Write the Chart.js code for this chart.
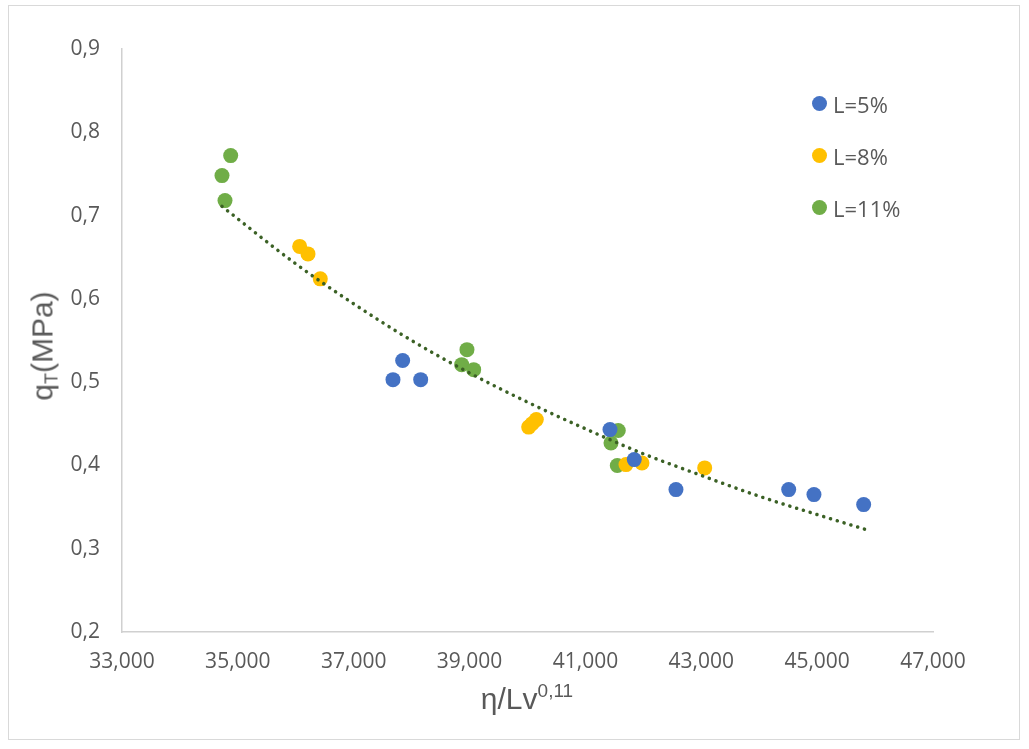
<!DOCTYPE html>
<html>
<head>
<meta charset="utf-8">
<script src="https://cdn.jsdelivr.net/npm/chart.js@4.4.1/dist/chart.umd.min.js"></script>
<style>
  body { margin: 0; background: #fff; }
  #wrap { position: relative; width: 1029px; height: 749px; }
  #frame { position: absolute; left: 8px; top: 5px; width: 1012px; height: 735px; border: 1px solid #d9d9d9; box-sizing: border-box; }
  #chart { position: absolute; left: 0; top: 0; }
  .ytitle { position: absolute; left: 44px; top: 346px; transform: translate(-50%, -50%) rotate(-90deg);
    font: 30px "Liberation Sans", Arial, sans-serif; color: #595959; white-space: nowrap; }
  .ytitle sub { font-size: 18px; vertical-align: -5px; }
  .xtitle { position: absolute; left: 527px; top: 680px; transform: translateX(-50%);
    font: 30px "Liberation Sans", Arial, sans-serif; color: #595959; white-space: nowrap; }
  .xtitle sup { font-size: 19px; vertical-align: 12px; }
  #legend { position: absolute; left: 812px; top: 89px; font: 22px "Open Sans", sans-serif; color: #595959; }
  #legend div { height: 52px; display: flex; align-items: flex-start; }
  #legend span.dot { display: inline-block; width: 15px; height: 15px; border-radius: 50%; margin: 7px 6px 0 0; }
</style>
</head>
<body>
<div id="wrap">
  <div id="frame"></div>
  <canvas id="chart" width="1029" height="749"></canvas>
  <div class="ytitle">q<sub>T</sub>(MPa)</div>
  <div class="xtitle">η/Lv<sup>0,11</sup></div>
  <div id="legend"></div>
</div>
<script>
// L=5%
const x5 = [37845, 37678, 38156, 41424, 41843, 42563, 44509, 44945, 45803];
const y5 = [0.526, 0.503, 0.503, 0.443, 0.407, 0.371, 0.371, 0.365, 0.353];
// L=8%
const x8 = [36067, 36211, 36423, 40020, 40078, 40152, 41700, 41976, 43059];
const y8 = [0.663, 0.654, 0.624, 0.446, 0.450, 0.455, 0.401, 0.403, 0.397];
// L=11%
const x11 = [34876, 34726, 34778, 38955, 38864, 39071, 41567, 41441, 41550];
const y11 = [0.772, 0.748, 0.718, 0.539, 0.521, 0.515, 0.442, 0.427, 0.400];
// dotted trend line
const trendX = [34726, 36000, 37000, 38000, 39000, 40000, 41000, 42000, 43000, 44000, 45000, 45843];
const trendY = [0.711, 0.642, 0.594, 0.550, 0.511, 0.476, 0.444, 0.414, 0.388, 0.363, 0.341, 0.323];

const xTicks = [33000, 35000, 37000, 39000, 41000, 43000, 45000, 47000];
const yTicks = [0.2, 0.3, 0.4, 0.5, 0.6, 0.7, 0.8, 0.9];

const toPts = (xs, ys) => xs.map((x, i) => ({ x: x, y: ys[i] }));

const series = [
  { label: 'L=5%', data: toPts(x5, y5), color: '#4472C4' },
  { label: 'L=8%', data: toPts(x8, y8), color: '#FFC000' },
  { label: 'L=11%', data: toPts(x11, y11), color: '#70AD47' }
];

const datasets = series.map(s => ({
  type: 'scatter',
  label: s.label,
  data: s.data,
  backgroundColor: s.color,
  borderColor: s.color,
  pointRadius: 7.5,
  borderWidth: 0,
  order: 1
}));

datasets.push({
  type: 'line',
  label: 'trend',
  data: toPts(trendX, trendY),
  borderColor: '#3B6125',
  borderWidth: 3.5,
  borderDash: [0.1, 7],
  borderCapStyle: 'round',
  pointRadius: 0,
  fill: false,
  cubicInterpolationMode: 'monotone',
  order: 0
});

const tickFont = { family: '"Open Sans", sans-serif', size: 21 };

new Chart(document.getElementById('chart'), {
  type: 'scatter',
  data: { datasets: datasets },
  options: {
    responsive: false,
    animation: false,
    layout: { padding: { left: 0, right: 96, top: 49, bottom: 0 } },
    plugins: { legend: { display: false }, tooltip: { enabled: false } },
    scales: {
      x: {
        type: 'linear', min: 33000, max: 47000,
        afterBuildTicks: a => { a.ticks = xTicks.map(v => ({ value: v })); },
        afterFit: a => { a.height = 117; },
        grid: { display: false, drawTicks: false },
        border: { display: true, color: '#d0d0d0', width: 1.5 },
        ticks: { font: tickFont, color: '#595959', padding: 17, maxRotation: 0,
          callback: v => v.toLocaleString('en-US') }
      },
      y: {
        min: 0.2, max: 0.9,
        afterBuildTicks: a => { a.ticks = yTicks.map(v => ({ value: v })); },
        afterFit: a => { a.width = 122; },
        grid: { display: false, drawTicks: false },
        border: { display: true, color: '#d0d0d0', width: 1.5 },
        ticks: { font: tickFont, color: '#595959', padding: 22,
          callback: v => v.toFixed(1).replace('.', ',') }
      }
    }
  }
});

// legend
const $legend = document.getElementById('legend');
series.forEach(s => {
  const row = document.createElement('div');
  row.innerHTML = '<span class="dot" style="background:' + s.color + '"></span>' + s.label;
  $legend.appendChild(row);
});
</script>
</body>
</html>
